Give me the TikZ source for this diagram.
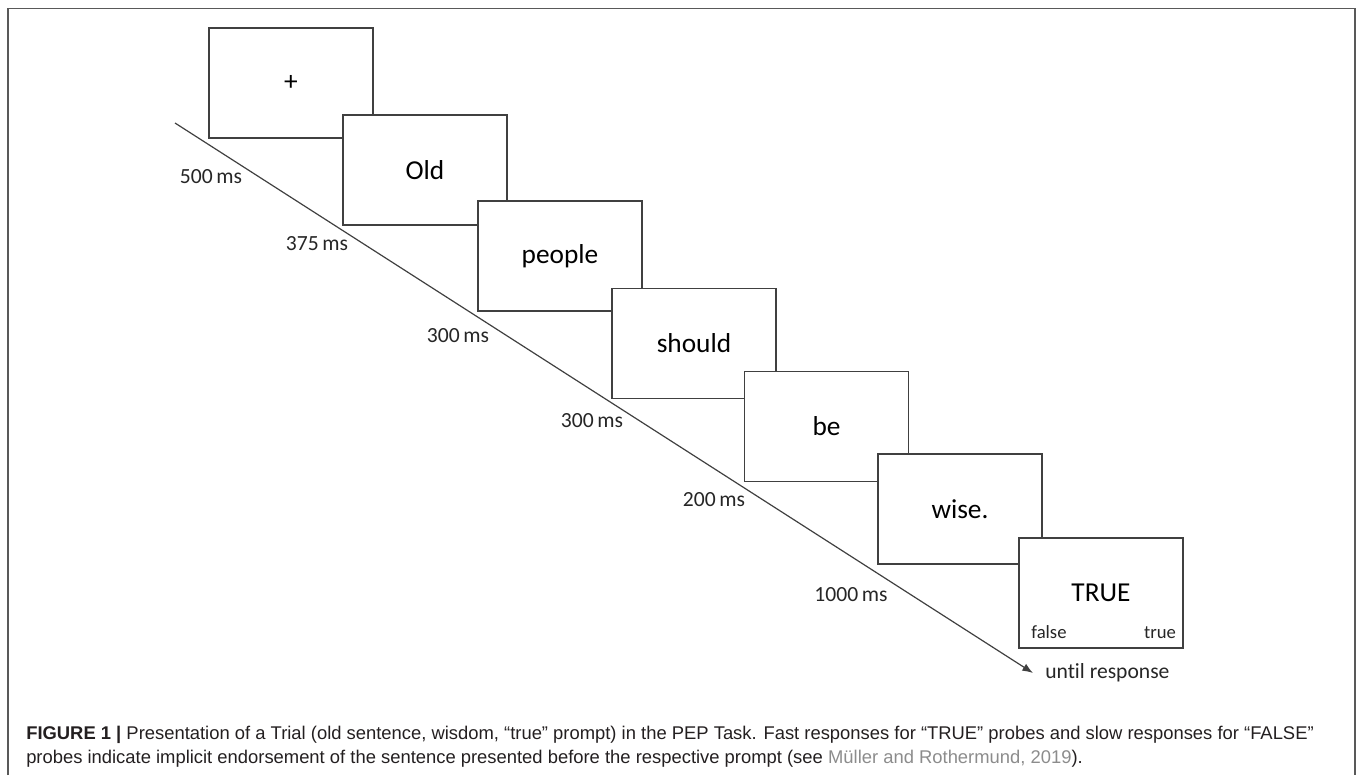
\documentclass[tikz,border=0pt]{standalone}
\usepackage{fontspec}
\setmainfont{Carlito}[Ligatures=NoCommon]
\newfontfamily\capfont{Liberation Sans}
\usetikzlibrary{arrows.meta}

\definecolor{linegray}{HTML}{404040}
\definecolor{capgray}{HTML}{231F20}
\definecolor{citegray}{HTML}{8C8C8C}

\tikzset{
	screen/.style={draw=linegray, line width=1pt, fill=white, minimum width=123pt,
		minimum height=82.5pt, inner sep=0pt, font=\fontsize{20.5}{24}\selectfont},
	dur/.style={inner sep=0pt, text=black!85, font=\fontsize{16.2}{19}\selectfont},
	key/.style={anchor=base, inner sep=0pt, text=black!85, font=\fontsize{14}{16}\selectfont},
	capline/.style={anchor=base west, inner sep=0pt, text=capgray, font=\capfont\fontsize{13.8}{16}\selectfont}
}

\begin{document}
\begin{tikzpicture}[x=0.75pt,y=-0.75pt]
		\useasboundingbox (0,0) rectangle (1357,775);
		\draw [black!65, line width=1.2pt] (8,775) -- (8,8.5) -- (1355,8.5) -- (1355,775);
		
		% time axis
		\coordinate (t0) at (175,123); \coordinate (tend) at (1033,673);
		\draw [linegray, line width=0.9pt, -{Latex[length=8pt,width=6pt]}] (t0) -- (tend);
		
		% screens, later ones on top
		\node [screen] (fix) at (291,83) {+};
		\node [screen] (old) at (425,170) {Old};
		\node [screen] (people) at (560,256) {people};
		\node [screen] (should) at (694,343.5) {should};
		\node [screen] (be) at (826.5,426.5) {be};
		\node [screen] (wise) at (960,509) {wise.};
		\node [screen] (probe) at (1101,593) {TRUE};
		\node [key] (kfalse) at (1049,638) {false};
		\node [key] (ktrue) at (1160,638) {true};
		
		% durations
		\node [dur] (d1) at (211,177) {500\,ms};
		\node [dur] (d2) at (317,244) {375\,ms};
		\node [dur] (d3) at (458,336) {300\,ms};
		\node [dur] (d4) at (592,421) {300\,ms};
		\node [dur] (d5) at (714,500) {200\,ms};
		\node [dur] (d6) at (851,595) {1000\,ms};
		\node [dur, anchor=west] (resp) at (1045,673) {until response};
		
		% caption
		\node [capline] (cap1) at (26,739) {\textbf{FIGURE 1 |} Presentation of a Trial (old sentence, wisdom, “true” prompt) in the PEP Task. Fast responses for “TRUE” probes and slow responses for “FALSE”};
		\node [capline] (cap2) at (26,763) {probes indicate implicit endorsement of the sentence presented before the respective prompt (see \textcolor{citegray}{Müller and Rothermund, 2019}).};
\end{tikzpicture}
\end{document}
